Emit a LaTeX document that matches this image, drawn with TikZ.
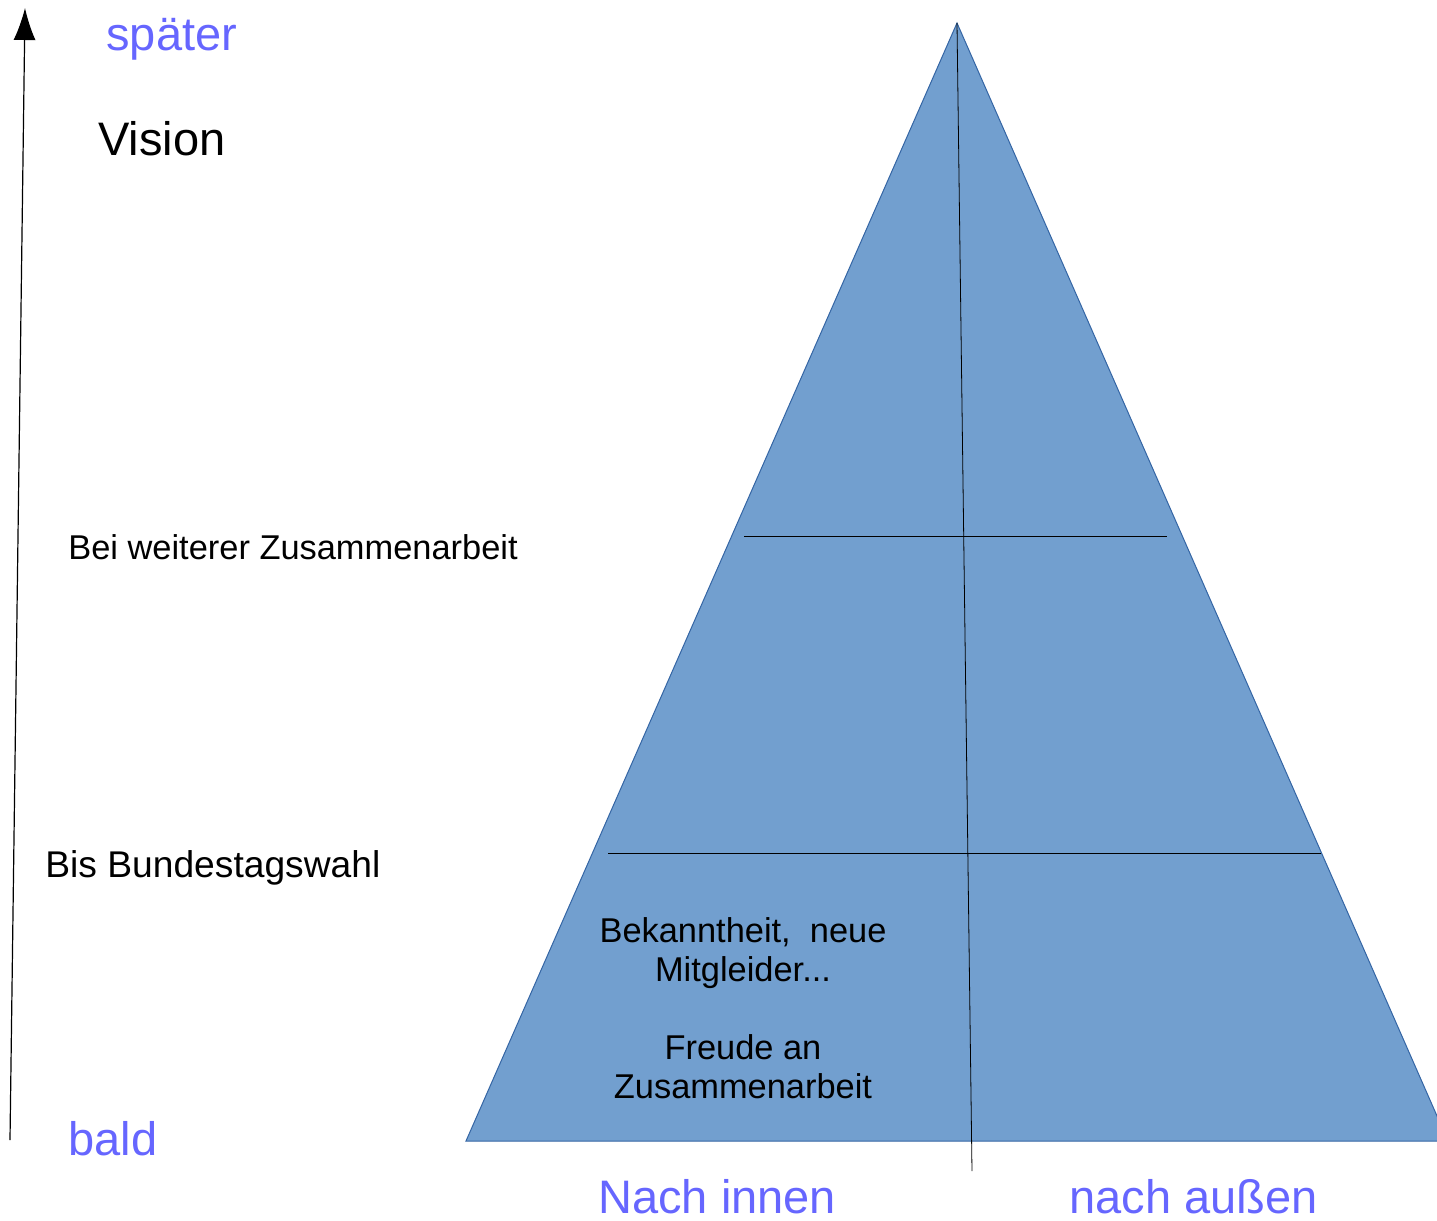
\documentclass[tikz,border=0pt]{standalone}
\usepackage{fontspec}
\setmainfont{Liberation Sans}
\usetikzlibrary{arrows.meta}

\definecolor{pyrfill}{HTML}{729FCF}
\definecolor{pyredge}{HTML}{3465A4}
\definecolor{timeblue}{HTML}{6666FF}

\tikzset{
    timelabel/.style={text=timeblue, inner sep=0pt, anchor=base west,
        font=\fontsize{23.5}{28}\selectfont},
    sidelabel/.style={timelabel},
    levellabel/.style={inner sep=0pt, anchor=base west,
        font=\fontsize{17.2}{19.5}\selectfont},
    pyramid/.style={fill=pyrfill, draw=pyredge, line width=0.5pt},
    divider/.style={black, line width=0.4pt}
}

\begin{document}
\begin{tikzpicture}[x=0.5pt, y=-0.5pt]
    \useasboundingbox (0, 0) rectangle (1437, 1221);

    % pyramid
    \coordinate (apex) at (957, 23);
    \coordinate (baseleft) at (466, 1141);
    \coordinate (baseright) at (1448, 1141);
    \draw[pyramid] (apex) -- (baseleft) -- (baseright) -- cycle;

    % levels
    \coordinate (upperleft) at (744, 536);
    \coordinate (upperright) at (1167, 536);
    \coordinate (lowerleft) at (608, 853);
    \coordinate (lowerright) at (1321, 853);
    \draw[divider] (upperleft) -- (upperright);
    \draw[divider] (lowerleft) -- (lowerright);

    % inside / outside
    \coordinate (axisfoot) at (972, 1171);
    \draw[divider] (apex) -- (axisfoot);

    % time axis
    \coordinate (timestart) at (10, 1140);
    \coordinate (timeend) at (25, 8);
    \draw[-{Latex[length=16pt, width=11pt]}, line width=0.6pt] (timestart) -- (timeend);

    \node[timelabel] (later) at (106, 50) {später};
    \node[timelabel] (soon) at (68, 1155) {bald};
    \node[levellabel, font=\fontsize{23.5}{28}\selectfont] (vision) at (98, 155) {Vision};
    \node[levellabel] (further) at (68, 559) {Bei weiterer Zusammenarbeit};
    \node[levellabel, font=\fontsize{18.6}{22}\selectfont] (election) at (45, 877) {Bis Bundestagswahl};

    \node[inner sep=0pt, align=center, font=\fontsize{17.2}{19.5}\selectfont] (goals) at (743, 1008)
        {Bekanntheit,\ \ neue\\Mitgleider...\\[19.5pt]Freude an\\Zusammenarbeit};

    \node[sidelabel] (inward) at (598, 1213) {Nach innen};
    \node[sidelabel] (outward) at (1069, 1213) {nach außen};
\end{tikzpicture}
\end{document}
